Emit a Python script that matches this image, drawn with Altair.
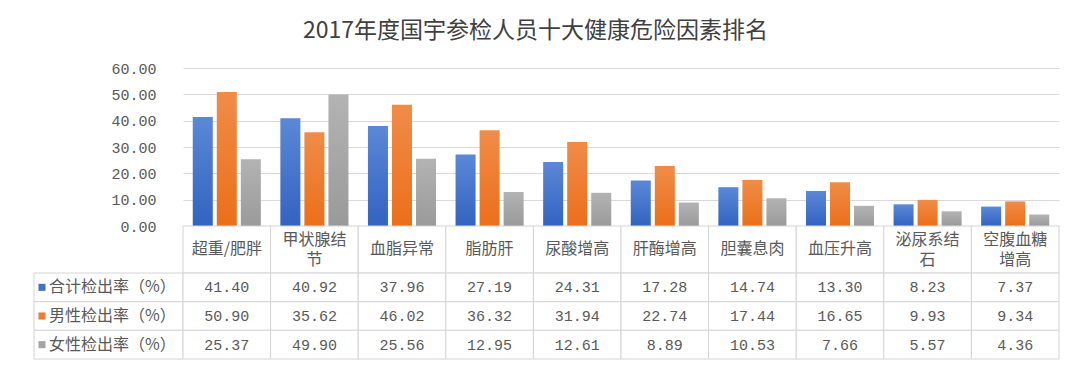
import altair as alt
import pandas as pd

categories = ["超重/肥胖", "甲状腺结节", "血脂异常", "脂肪肝", "尿酸增高",
              "肝酶增高", "胆囊息肉", "血压升高", "泌尿系结石", "空腹血糖增高"]
header_labels = ["超重/肥胖", "甲状腺结\n节", "血脂异常", "脂肪肝", "尿酸增高",
                 "肝酶增高", "胆囊息肉", "血压升高", "泌尿系结\n石", "空腹血糖\n增高"]
series = ["合计检出率（%）", "男性检出率（%）", "女性检出率（%）"]
total = [41.40, 40.92, 37.96, 27.19, 24.31, 17.28, 14.74, 13.30, 8.23, 7.37]
male = [50.90, 35.62, 46.02, 36.32, 31.94, 22.74, 17.44, 16.65, 9.93, 9.34]
female = [25.37, 49.90, 25.56, 12.95, 12.61, 8.89, 10.53, 7.66, 5.57, 4.36]
y_ticks = [0, 10, 20, 30, 40, 50, 60]
colors = ["#4472C4", "#ED7D31", "#A5A5A5"]
grad_top = ["#5B88D6", "#F08C48", "#B3B3B3"]
grad_bottom = ["#3263C0", "#EB6F1A", "#9A9A9A"]
title_text = "2017年度国宇参检人员十大健康危险因素排名"

CJK = "Noto Sans CJK SC"
NUM = "Liberation Mono"
TXT = "#595959"
LINE = "#D4D4D4"

rows = []
for s, vals in zip(series, [total, male, female]):
    for c, v in zip(categories, vals):
        rows.append({"category": c, "series": s, "value": v})
df = pd.DataFrame(rows)
hdr_df = pd.DataFrame({"category": categories, "label": header_labels})
hdr_df["lines"] = hdr_df["label"].str.count("\n") + 1
lab_df = pd.DataFrame({"series": series})

W, W_LEFT = 876, 149
H_BAR, H_HDR, H_BODY = 158, 47, 86

x_enc = alt.X("category:N", sort=categories,
              scale=alt.Scale(domain=categories, paddingInner=0, paddingOuter=0),
              axis=None)

# ---- bar chart ----
bar_layers = []
for s, gt, gb in zip(series, grad_top, grad_bottom):
    bar_layers.append(
        alt.Chart(df).transform_filter(alt.datum.series == s).mark_bar(
            color={"gradient": "linear", "x1": 0, "x2": 0, "y1": 0, "y2": 1,
                   "stops": [{"offset": 0, "color": gt}, {"offset": 1, "color": gb}]}
        ).encode(
            x=x_enc,
            xOffset=alt.XOffset("series:N",
                                scale=alt.Scale(domain=series, paddingInner=0.167,
                                                paddingOuter=0.406)),
            y=alt.Y("value:Q",
                    scale=alt.Scale(domain=[0, 60], nice=False),
                    axis=alt.Axis(values=y_ticks, format=".2f", title=None,
                                  domain=False, ticks=False, labelPadding=27,
                                  gridColor="#D9D9D9", labelFont=NUM,
                                  labelFontSize=15, labelColor=TXT)),
        )
    )
bars = alt.layer(*bar_layers).properties(width=W, height=H_BAR)


def blank(h):
    return alt.Chart(lab_df).mark_point(opacity=0).properties(width=W_LEFT, height=h)


# ---- header row ----
header = alt.layer(
    alt.Chart(hdr_df).mark_rect(fill="white", stroke=LINE, strokeWidth=1).encode(x=x_enc),
    alt.Chart(hdr_df).transform_filter(alt.datum.lines == 1).mark_text(
        font=CJK, fontSize=16, color=TXT, baseline="middle", dy=-1).encode(
        x=x_enc, text="label:N"),
    alt.Chart(hdr_df).transform_filter(alt.datum.lines == 2).mark_text(
        lineBreak="\n", font=CJK, fontSize=16, color=TXT, lineHeight=20,
        baseline="middle", dy=-10).encode(
        x=x_enc, text="label:N"),
).properties(width=W, height=H_HDR)

# ---- table body ----
y_rows = alt.Y("series:N", sort=series,
               scale=alt.Scale(domain=series, paddingInner=0, paddingOuter=0),
               axis=None)
body = alt.layer(
    alt.Chart(df).mark_rect(fill="white", stroke=LINE, strokeWidth=1).encode(
        x=x_enc, y=y_rows),
    alt.Chart(df).mark_text(font=NUM, fontSize=15, color=TXT).encode(
        x=x_enc, y=y_rows, text=alt.Text("value:Q", format=".2f")),
).properties(width=W, height=H_BODY)

labels = alt.layer(
    alt.Chart(lab_df).mark_rect(fill="white", stroke=LINE, strokeWidth=1).encode(y=y_rows),
    alt.Chart(lab_df).mark_square(size=50, opacity=1).encode(
        y=y_rows, x=alt.value(8),
        color=alt.Color("series:N", scale=alt.Scale(domain=series, range=colors),
                        legend=None)),
    alt.Chart(lab_df).mark_text(font=CJK, fontSize=16, color=TXT, align="left").encode(
        y=y_rows, x=alt.value(15), text="series:N"),
).properties(width=W_LEFT, height=H_BODY)

chart = alt.concat(
    blank(H_BAR), bars,
    blank(H_HDR), header,
    labels, body,
    columns=2, spacing=0, bounds="flush",
).properties(
    title=alt.TitleParams(title_text, font=CJK, fontSize=23, color="#404040",
                          fontWeight="normal", anchor="middle", offset=18, dx=-11),
    padding={"left": 25, "top": 12, "right": 10, "bottom": 2},
).configure_view(stroke=None)

chart.save("out.html", embed_options={"renderer": "svg", "actions": False})
